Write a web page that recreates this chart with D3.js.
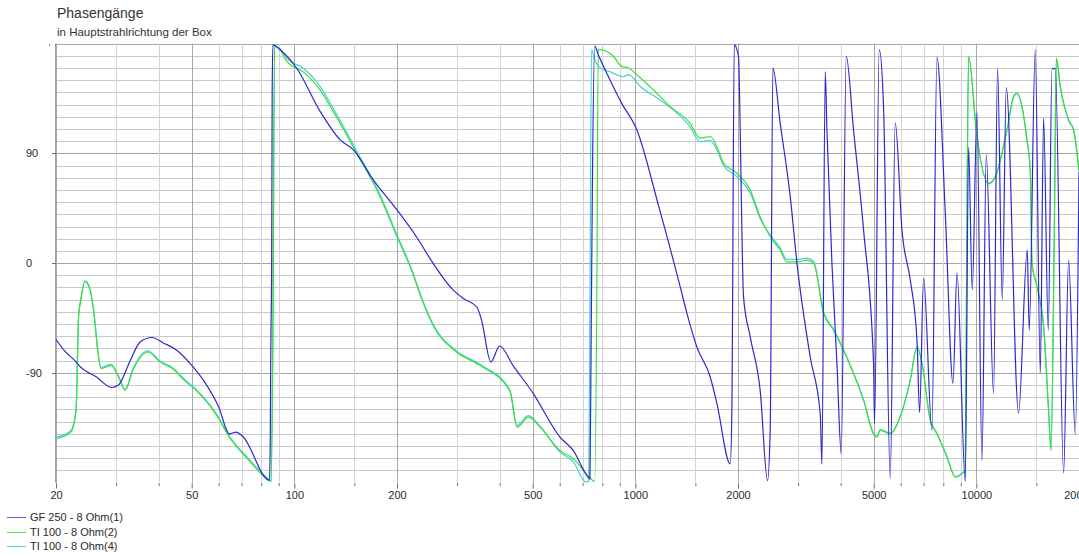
<!DOCTYPE html>
<html><head><meta charset="utf-8">
<script src="https://cdn.jsdelivr.net/npm/d3@7"></script>
<style>body{margin:0;background:#fff} svg{display:block;font-family:"Liberation Sans",Arial,sans-serif}</style>
</head><body><svg id="c" width="1079" height="556"></svg>
<script>
const title = "Phasengänge";
const subtitle = "in Hauptstrahlrichtung der Box";
const freqLabels = [20,50,100,200,500,1000,2000,5000,10000,20000];
const gridFreqs = [20,30,40,50,60,70,80,90,100,150,200,300,400,500,600,700,800,900,1000,1500,2000,3000,4000,5000,6000,7000,8000,9000,10000,15000,20000];
const phaseLabels = [90,0,-90];
const gridPhases = [-170,-160,-150,-140,-130,-120,-110,-100,-90,-80,-70,-60,-50,-40,-30,-20,-10,0,10,20,30,40,50,60,70,80,90,100,110,120,130,140,150,160,170,180];
const seriesNames = ["GF 250 - 8 Ohm(1)","TI 100 - 8 Ohm(2)","TI 100 - 8 Ohm(4)"];

const gf250 = [[20,-62.7],[21.2,-72],[22.9,-81],[23.5,-84.7],[26.3,-93.4],[29.1,-102],[30.5,-100],[33,-80],[35.3,-64.7],[38.2,-61],[41.3,-65.5],[45.2,-71.5],[49.5,-82.4],[54.1,-96],[60,-118],[64.5,-140],[67.4,-138.6],[70.5,-142],[84.5,-178],[85.0,-143],[85.3,-72],[85.8,0],[86.1,140],[86.5,179],[90.8,175],[101.5,160],[119,124.4],[136.3,101],[149,92.9],[170.4,68.2],[200,43.6],[228,21.6],[255,0],[292,-22],[313,-29],[343,-36],[354,-46.8],[377,-81],[400,-68],[438,-84],[502,-107],[601,-142.7],[658,-153.7],[727,-175.6],[736,-177],[742,-60],[748,60],[760,178],[778,171],[842,150.4],[912,131],[1010,109.3],[1168,47.7],[1354,-19.5],[1416,-41],[1515,-68.8],[1658,-93.4],[1734,-115],[1898,-164.6],[1919,-120],[1950,179],[2007,169.6],[2030,109],[2053,27],[2076,-27.7],[2172,-60.5],[2323,-104.4],[2441,-178.4],[2486,-137],[2531,160],[2659,114.8],[2846,54.5],[2978,0],[3257,-77],[3485,-123.5],[3525,-164.6],[3605,157],[3646,109],[3771,0],[3901,-82.4],[4016,-156.4],[4154,169.6],[4364,109],[4670,27],[4995,-82.4],[5029,-131.7],[5190,175],[5344,128.5],[5591,-176.7],[5783,115],[6052,27],[6402,-14],[6697,-63],[6817,-122.5],[7003,-12.5],[7410,-137],[7664,169],[8108,41],[8541,-98.6],[8774,-8],[9280,-179],[9489,95],[9727,-22],[10042,124],[10387,-162],[10692,89],[11233,-107],[11540,160],[11912,-30],[12240,144],[13299,-123],[14100,10.7],[14290,-55],[14887,175],[15399,-90],[15745,119],[16255,-55],[16666,159.5],[17043,159.5],[18026,-172],[18643,2.5],[19505,-140],[20000,75]];

const ti100_2 = [[20,-144],[22.1,-138.6],[22.9,-121],[23.3,-44],[23.7,-29],[24.3,-15.3],[25.0,-19.5],[25.9,-44],[26.5,-71.5],[27.1,-86.6],[29.0,-83.8],[30.5,-93.4],[31.9,-104.4],[33.6,-88],[37.2,-72.9],[40.3,-81],[44,-86.6],[47.5,-96],[51.5,-104.4],[58.8,-123.6],[64.5,-142.7],[73.7,-162],[84.5,-178.4],[85.5,-179],[86.5,-60],[87.5,178],[90.8,175],[95,165.5],[106,157],[119,142],[130,124.4],[152.4,90],[178.4,54.5],[200,21.6],[218.6,-3],[239,-33],[255,-51],[299,-72.9],[350,-83.8],[428,-104.4],[450,-134.5],[486,-126.3],[526,-134.5],[601,-153.7],[658,-160.5],[719,-172.8],[760,-179],[772,0],[778,175],[789,175],[862,169.6],[912,161.3],[956,160],[1010,154.5],[1130,142],[1264,128.5],[1446,114.8],[1549,102.5],[1658,103.8],[1734,95.6],[1814,82],[1985,73.7],[2172,60],[2323,38],[2486,21.6],[2659,10.7],[2783,1],[2978,1],[3185,2.5],[3332,0],[3564,-41],[3813,-55],[4078,-71.5],[4364,-90.7],[4670,-112.6],[4995,-140],[5110,-142.7],[5225,-137],[5591,-140],[5982,-126],[6402,-96],[6697,-68.8],[6928,-82.4],[7326,-129],[7664,-140],[8201,-159],[8674,-175.6],[9075,-172.8],[9280,-170],[9374,10.7],[9489,169.6],[10042,103.8],[10860,65.5],[11363,71],[12297,109.3],[12858,136.7],[13157,139.5],[13610,128.5],[14078,101],[14391,76.4],[14562,0],[15061,-19.5],[15745,-52],[16285,-120.8],[16554,-153.7],[16930,27],[17160,168.2],[17630,145],[18643,117.5],[19283,109.3],[20000,76]];

const ti100_4 = [[20,-143],[22.1,-137.5],[22.9,-120],[23.3,-43],[23.7,-28],[24.3,-14.5],[25.0,-18.5],[25.9,-43],[26.5,-70.5],[27.1,-85.6],[29.0,-83],[30.5,-92.5],[31.9,-103.5],[33.6,-87],[37.2,-72],[40.3,-80],[44,-86],[47.5,-95],[51.5,-103.5],[58.8,-122.8],[64.5,-142],[73.7,-161],[84.5,-177.8],[85.5,-179],[86.5,-60],[87.5,178],[90.8,176],[95,168],[106,160],[119,145],[130,127],[152.4,92],[178.4,56],[200,23],[218.6,-2],[239,-32],[255,-50],[299,-72],[350,-83],[428,-103.5],[450,-133],[486,-125],[526,-134],[601,-155],[658,-163],[716,-179.5],[730,-179],[737,0],[744,175],[760,167],[789,160],[842,157],[921,153],[956,154.5],[1032,145],[1158,135.4],[1324,123],[1446,112],[1549,99.5],[1658,100.5],[1734,93],[1814,80],[1985,71],[2172,57.5],[2323,36.5],[2486,23],[2659,12.5],[2783,3],[2978,3],[3185,4],[3332,1.5],[3564,-40],[3813,-54],[4078,-71],[4364,-90],[4670,-112],[4995,-139.5],[5110,-142],[5225,-136.5],[5591,-139.5],[5982,-125.5],[6402,-95.5],[6697,-68.5],[6928,-82],[7326,-128.5],[7664,-139.5],[8201,-158.5],[8674,-175],[9075,-172.5],[9280,-169.5],[9374,10],[9489,169],[10042,103],[10860,65],[11363,70.5],[12297,109],[12858,136],[13157,139],[13610,128],[14078,100.5],[14391,76],[14562,0],[15061,-19],[15745,-51.5],[16285,-120],[16554,-153],[16930,26],[17160,167.5],[17630,144.5],[18643,117],[19283,109],[20000,75.5]];

const colors = ["#2a2acc","#3ddd3d","#45d2d2"];
const legendColors = ["#5858e4","#4ce24c","#52d6d6"];

const svg = d3.select("#c");
const L = 56, R = 1079, T = 43.6, B = 482.6;
const x = d3.scaleLog().domain([20,20000]).range([L,R]);
const y = d3.scaleLinear().domain([-180,180]).range([B,T]);
const snap = v => Math.round(v) + 0.5;

// horizontal grid
svg.append("g").selectAll("line").data(gridPhases).join("line")
  .attr("x1", L).attr("x2", R)
  .attr("y1", d => snap(y(d))).attr("y2", d => snap(y(d)))
  .attr("stroke", d => (d % 90 === 0) ? "#a4a4a4" : "#c8c8c8")
  .attr("stroke-width", 1);
// vertical grid
svg.append("g").selectAll("line").data(gridFreqs).join("line")
  .attr("x1", d => snap(x(d))).attr("x2", d => snap(x(d)))
  .attr("y1", T).attr("y2", B)
  .attr("stroke", d => freqLabels.includes(d) ? "#a8a8a8" : "#d4d4d4")
  .attr("stroke-width", 1);
// left border
svg.append("line").attr("x1", snap(L)-1).attr("x2", snap(L)-1).attr("y1", T).attr("y2", B).attr("stroke", "#a0a0a0");

// x axis ticks and labels
const xa = d3.axisBottom(x).tickValues(gridFreqs).tickSize(4).tickFormat(d => freqLabels.includes(d) ? d : "");
const gx = svg.append("g").attr("transform", `translate(0,${B})`).call(xa);
gx.select(".domain").remove();
gx.selectAll(".tick line").attr("stroke", "#707070").attr("y1", 0.5)
  .attr("y2", d => freqLabels.includes(d) ? 6 : 3.5);
gx.selectAll(".tick text").attr("fill", "#2a2a2a").attr("font-size", 11)
  .attr("y", 9).attr("dy", "0.71em").attr("font-family", '"Liberation Sans",Arial,sans-serif');

// y axis ticks and labels
const gy = svg.append("g");
gy.selectAll("line").data(phaseLabels).join("line")
  .attr("x1", 52).attr("x2", L).attr("y1", d => snap(y(d))).attr("y2", d => snap(y(d)))
  .attr("stroke", "#707070");
gy.selectAll("text").data(phaseLabels).join("text")
  .attr("x", 26).attr("y", d => y(d)).attr("dy", "0.35em")
  .attr("font-size", 11).attr("fill", "#2a2a2a").text(d => d);
svg.append("line").attr("x1", 49.5).attr("x2", 49.5).attr("y1", y(180)+0.5).attr("y2", y(180)+2.5).attr("stroke", "#808080");

// clip
svg.append("clipPath").attr("id", "clip").append("rect")
  .attr("x", L).attr("y", T-2).attr("width", R-L).attr("height", B-T+3);

const line = d3.line().x(d => x(d[0])).y(d => y(d[1])).curve(d3.curveMonotoneX);
const plot = svg.append("g").attr("clip-path", "url(#clip)");
[[ti100_4,2],[ti100_2,1],[gf250,0]].forEach(([data,i]) => {
  plot.append("path").datum(data).attr("d", line)
    .attr("fill", "none").attr("stroke", colors[i]).attr("stroke-width", 1.2)
    .attr("stroke-linejoin", "round");
});

// titles
svg.append("text").attr("x", 57).attr("y", 18).attr("font-size", 14).attr("fill", "#333").text(title);
svg.append("text").attr("x", 57).attr("y", 35.5).attr("font-size", 11.5).attr("fill", "#333").text(subtitle);

// legend
const lg = svg.append("g");
const ly = [517.3, 531.7, 546];
seriesNames.forEach((n, i) => {
  lg.append("line").attr("x1", 7).attr("x2", 26).attr("y1", Math.round(ly[i])+0.5).attr("y2", Math.round(ly[i])+0.5)
    .attr("stroke", legendColors[i]).attr("stroke-width", 1);
  lg.append("text").attr("x", 30).attr("y", ly[i]).attr("dy", "0.35em")
    .attr("font-size", 11).attr("fill", "#2a2a2a").text(n);
});
</script></body></html>
